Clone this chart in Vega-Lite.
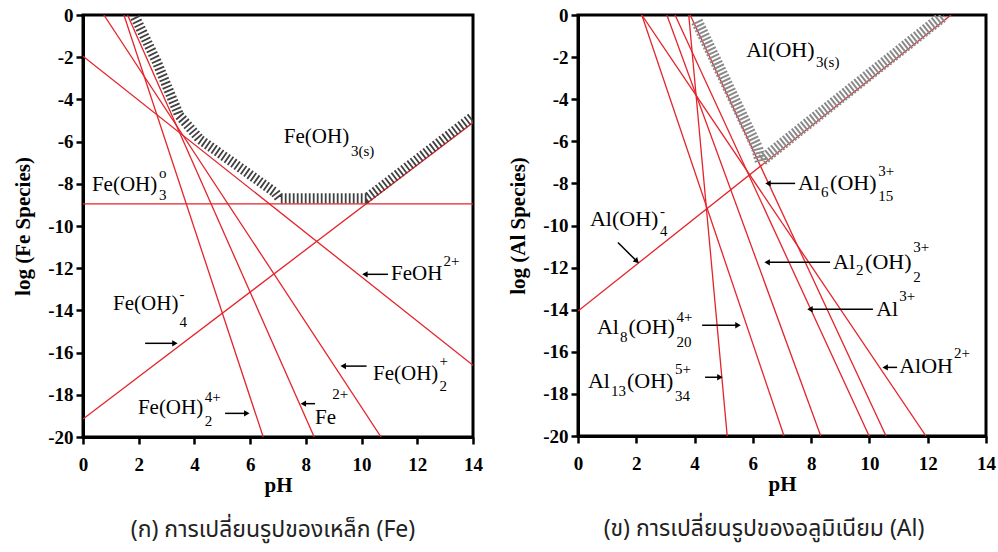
{
  "$schema": "https://vega.github.io/schema/vega-lite/v6.json",
  "background": "white",
  "padding": {"left": 11, "top": 4, "right": 2, "bottom": 7},
  "spacing": 22,
  "config": {
    "view": {"stroke": "black", "strokeWidth": 3},
    "axis": {"domainColor": "black", "domainWidth": 3, "tickColor": "black", "tickWidth": 2.5, "tickSize": 7, "labelFont": "Liberation Serif", "labelFontWeight": "bold", "labelFontSize": 19, "labelColor": "black", "titleFont": "Liberation Serif", "titleFontWeight": "bold", "titleFontSize": 21, "titleColor": "black", "grid": false, "labelPadding": 3, "labelFlush": false, "labelOverlap": false},
    "axisX": {"labelPadding": 11, "titlePadding": 0},
    "axisY": {"titlePadding": 14},
    "text": {"font": "Liberation Serif", "color": "black"},
    "title": {"font": "Noto Sans Thai, Noto Sans, sans-serif", "fontSize": 23, "fontWeight": "normal", "color": "#222222", "offset": 24, "baseline": "middle"}
  },
  "datasets": {
    "feLines": [
      {"s": "Fe(OH)3", "pH": 0, "v": -8.95}, {"s": "Fe(OH)3", "pH": 14, "v": -8.95},
      {"s": "Fe(OH)4", "pH": 0, "v": -19.15}, {"s": "Fe(OH)4", "pH": 14, "v": -5.1},
      {"s": "FeOH", "pH": 0, "v": -1.95}, {"s": "FeOH", "pH": 14, "v": -16.6},
      {"s": "Fe2(OH)2", "pH": 1.47, "v": 0}, {"s": "Fe2(OH)2", "pH": 6.47, "v": -20},
      {"s": "Fe", "pH": 1.6, "v": 0}, {"s": "Fe", "pH": 8.3, "v": -20},
      {"s": "Fe(OH)2", "pH": 0.75, "v": 0}, {"s": "Fe(OH)2", "pH": 10.7, "v": -20}
    ],
    "feHatch": [
      {"pH": 1.87, "v": -0.1}, {"pH": 2.64, "v": -2.2}, {"pH": 3.45, "v": -4.75}, {"pH": 4.2, "v": -5.9},
      {"pH": 5.39, "v": -7.0}, {"pH": 6.9, "v": -8.42}, {"pH": 7.05, "v": -8.68}, {"pH": 10.18, "v": -8.68},
      {"pH": 13.95, "v": -4.86}
    ],
    "feMain": [
      {"t": "Fe(OH)", "pH": 7.21, "v": -5.8},
      {"t": "Fe(OH)", "pH": 0.32, "v": -8.07},
      {"t": "FeOH", "pH": 11.06, "v": -12.29},
      {"t": "Fe(OH)", "pH": 1.08, "v": -13.71},
      {"t": "Fe(OH)", "pH": 10.41, "v": -17.03},
      {"t": "Fe(OH)", "pH": 1.97, "v": -18.61},
      {"t": "Fe", "pH": 8.33, "v": -19.08}
    ],
    "feScript": [
      {"t": "3(s)", "pH": 9.62, "v": -6.46},
      {"t": "o", "pH": 2.73, "v": -7.5},
      {"t": "3", "pH": 2.73, "v": -8.55},
      {"t": "2+", "pH": 12.94, "v": -11.68},
      {"t": "-", "pH": 3.46, "v": -13.24},
      {"t": "4", "pH": 3.46, "v": -14.56},
      {"t": "+", "pH": 12.8, "v": -16.41},
      {"t": "2", "pH": 12.8, "v": -17.6},
      {"t": "4+", "pH": 4.37, "v": -18.12},
      {"t": "2", "pH": 4.37, "v": -19.26},
      {"t": "2+", "pH": 8.95, "v": -17.95}
    ],
    "feArrows": [
      {"pH": 10.12, "v": -12.29, "pH2": 10.95, "v2": -12.29},
      {"pH": 9.34, "v": -16.64, "pH2": 10.18, "v2": -16.64},
      {"pH": 2.23, "v": -15.56, "pH2": 3.3, "v2": -15.56},
      {"pH": 5.1, "v": -18.88, "pH2": 5.88, "v2": -18.88},
      {"pH": 7.91, "v": -18.42, "pH2": 8.33, "v2": -18.42}
    ],
    "feHeadL": [{"pH": 10.12, "v": -12.29}, {"pH": 9.34, "v": -16.64}, {"pH": 7.91, "v": -18.42}],
    "feHeadR": [{"pH": 3.3, "v": -15.56}, {"pH": 5.88, "v": -18.88}],
    "alLines": [
      {"s": "Al(OH)4", "pH": 0, "v": -14.06}, {"s": "Al(OH)4", "pH": 12.8, "v": 0},
      {"s": "AlOH", "pH": 2.19, "v": 0}, {"s": "AlOH", "pH": 11.94, "v": -20},
      {"s": "Al8", "pH": 2.19, "v": 0}, {"s": "Al8", "pH": 7.07, "v": -20},
      {"s": "Al2", "pH": 3.05, "v": 0}, {"s": "Al2", "pH": 8.33, "v": -20},
      {"s": "Al", "pH": 3.33, "v": 0}, {"s": "Al", "pH": 9.99, "v": -20},
      {"s": "Al6", "pH": 3.85, "v": 0}, {"s": "Al6", "pH": 10.57, "v": -20},
      {"s": "Al13", "pH": 3.8, "v": 0}, {"s": "Al13", "pH": 5.12, "v": -20}
    ],
    "alHatch": [
      {"pH": 4.08, "v": -0.3}, {"pH": 6.14, "v": -6.3}, {"pH": 6.27, "v": -6.95}, {"pH": 7.3, "v": -5.8},
      {"pH": 9.0, "v": -3.93}, {"pH": 10.7, "v": -2.06}, {"pH": 12.55, "v": -0.03}
    ],
    "alMain": [
      {"t": "Al(OH)", "pH": 5.77, "v": -1.66},
      {"t": "Al(OH)", "pH": 0.41, "v": -9.71},
      {"t": "Al", "pH": 7.55, "v": -8.0},
      {"t": "(OH)", "pH": 8.65, "v": -8.0},
      {"t": "Al", "pH": 8.75, "v": -11.75},
      {"t": "(OH)", "pH": 9.85, "v": -11.72},
      {"t": "Al", "pH": 10.23, "v": -13.98},
      {"t": "AlOH", "pH": 11.02, "v": -16.69},
      {"t": "Al", "pH": 0.65, "v": -14.84},
      {"t": "(OH)", "pH": 1.73, "v": -14.84},
      {"t": "Al", "pH": 0.34, "v": -17.4},
      {"t": "(OH)", "pH": 1.68, "v": -17.4}
    ],
    "alScript": [
      {"t": "3(s)", "pH": 8.17, "v": -2.25},
      {"t": "-", "pH": 2.81, "v": -9.33},
      {"t": "4", "pH": 2.81, "v": -10.28},
      {"t": "6", "pH": 8.34, "v": -8.43},
      {"t": "15", "pH": 10.3, "v": -8.61},
      {"t": "3+", "pH": 10.3, "v": -7.43},
      {"t": "2", "pH": 9.54, "v": -12.1},
      {"t": "2", "pH": 11.5, "v": -12.46},
      {"t": "3+", "pH": 11.5, "v": -11.04},
      {"t": "3+", "pH": 11.02, "v": -13.36},
      {"t": "2+", "pH": 12.9, "v": -16.07},
      {"t": "8", "pH": 1.44, "v": -15.31},
      {"t": "4+", "pH": 3.38, "v": -14.37},
      {"t": "20", "pH": 3.38, "v": -15.55},
      {"t": "13", "pH": 1.13, "v": -17.88},
      {"t": "5+", "pH": 3.33, "v": -16.83},
      {"t": "34", "pH": 3.33, "v": -18.11}
    ],
    "alArrows": [
      {"pH": 1.37, "v": -10.81, "pH2": 2.02, "v2": -11.7},
      {"pH": 6.52, "v": -8.0, "pH2": 7.45, "v2": -8.0},
      {"pH": 6.49, "v": -11.75, "pH2": 8.65, "v2": -11.75},
      {"pH": 7.96, "v": -13.98, "pH2": 10.12, "v2": -13.98},
      {"pH": 10.54, "v": -16.74, "pH2": 10.95, "v2": -16.74},
      {"pH": 4.26, "v": -14.74, "pH2": 5.49, "v2": -14.74},
      {"pH": 4.36, "v": -17.21, "pH2": 4.87, "v2": -17.21}
    ],
    "alHeadL": [{"pH": 6.52, "v": -8.0}, {"pH": 6.49, "v": -11.75}, {"pH": 7.96, "v": -13.98}, {"pH": 10.54, "v": -16.74}],
    "alHeadR": [{"pH": 5.49, "v": -14.74}, {"pH": 4.87, "v": -17.21}],
    "alHeadD": [{"pH": 2.02, "v": -11.7}]
  },
  "hconcat": [
    {
      "width": 390,
      "height": 422,
      "title": {"text": "(ก) การเปลี่ยนรูปของเหล็ก (Fe)", "orient": "bottom", "dx": -5},
      "encoding": {
        "x": {"field": "pH", "type": "quantitative", "scale": {"domain": [0, 14], "nice": false, "zero": false}, "axis": {"title": "pH", "values": [0, 2, 4, 6, 8, 10, 12, 14]}},
        "y": {"field": "v", "type": "quantitative", "scale": {"domain": [-20, 0], "nice": false, "zero": false}, "axis": {"title": "log (Fe Species)", "values": [0, -2, -4, -6, -8, -10, -12, -14, -16, -18, -20], "labelExpr": "datum.value == 0 ? '0' : '-' + abs(datum.value)"}}
      },
      "layer": [
        {"data": {"name": "feLines"}, "mark": {"type": "line", "color": "#e3242b", "strokeWidth": 1.3, "clip": true}, "encoding": {"detail": {"field": "s"}}},
        {"data": {"name": "feHatch"}, "mark": {"type": "line", "color": "#404040", "strokeWidth": 10, "strokeDash": [1.8, 2.2], "strokeCap": "butt", "clip": true}},
        {"data": {"name": "feArrows"}, "mark": {"type": "rule", "color": "black", "strokeWidth": 1.5}, "encoding": {"x2": {"field": "pH2"}, "y2": {"field": "v2"}}},
        {"data": {"name": "feHeadL"}, "mark": {"type": "point", "shape": "triangle-left", "filled": true, "color": "black", "opacity": 1, "size": 40}},
        {"data": {"name": "feHeadR"}, "mark": {"type": "point", "shape": "triangle-right", "filled": true, "color": "black", "opacity": 1, "size": 40}},
        {"data": {"name": "feMain"}, "mark": {"type": "text", "align": "left", "baseline": "middle", "fontSize": 21}, "encoding": {"text": {"field": "t"}}},
        {"data": {"name": "feScript"}, "mark": {"type": "text", "align": "left", "baseline": "middle", "fontSize": 15}, "encoding": {"text": {"field": "t"}}}
      ]
    },
    {
      "width": 408,
      "height": 421,
      "title": {"text": "(ข) การเปลี่ยนรูปของอลูมิเนียม (Al)", "orient": "bottom", "dx": -18},
      "encoding": {
        "x": {"field": "pH", "type": "quantitative", "scale": {"domain": [0, 14], "nice": false, "zero": false}, "axis": {"title": "pH", "values": [0, 2, 4, 6, 8, 10, 12, 14]}},
        "y": {"field": "v", "type": "quantitative", "scale": {"domain": [-20, 0], "nice": false, "zero": false}, "axis": {"title": "log (Al Species)", "values": [0, -2, -4, -6, -8, -10, -12, -14, -16, -18, -20], "labelExpr": "datum.value == 0 ? '0' : '-' + abs(datum.value)"}}
      },
      "layer": [
        {"data": {"name": "alLines"}, "mark": {"type": "line", "color": "#e3242b", "strokeWidth": 1.3, "clip": true}, "encoding": {"detail": {"field": "s"}}},
        {"data": {"name": "alHatch"}, "mark": {"type": "line", "color": "#8a8a8a", "strokeWidth": 12, "strokeDash": [2, 1.8], "strokeCap": "butt", "clip": true}},
        {"data": {"name": "alArrows"}, "mark": {"type": "rule", "color": "black", "strokeWidth": 1.5}, "encoding": {"x2": {"field": "pH2"}, "y2": {"field": "v2"}}},
        {"data": {"name": "alHeadL"}, "mark": {"type": "point", "shape": "triangle-left", "filled": true, "color": "black", "opacity": 1, "size": 40}},
        {"data": {"name": "alHeadR"}, "mark": {"type": "point", "shape": "triangle-right", "filled": true, "color": "black", "opacity": 1, "size": 40}},
        {"data": {"name": "alHeadD"}, "mark": {"type": "point", "shape": "triangle-right", "filled": true, "color": "black", "opacity": 1, "size": 40, "angle": 45}},
        {"data": {"name": "alMain"}, "mark": {"type": "text", "align": "left", "baseline": "middle", "fontSize": 22}, "encoding": {"text": {"field": "t"}}},
        {"data": {"name": "alScript"}, "mark": {"type": "text", "align": "left", "baseline": "middle", "fontSize": 15}, "encoding": {"text": {"field": "t"}}}
      ]
    }
  ]
}
